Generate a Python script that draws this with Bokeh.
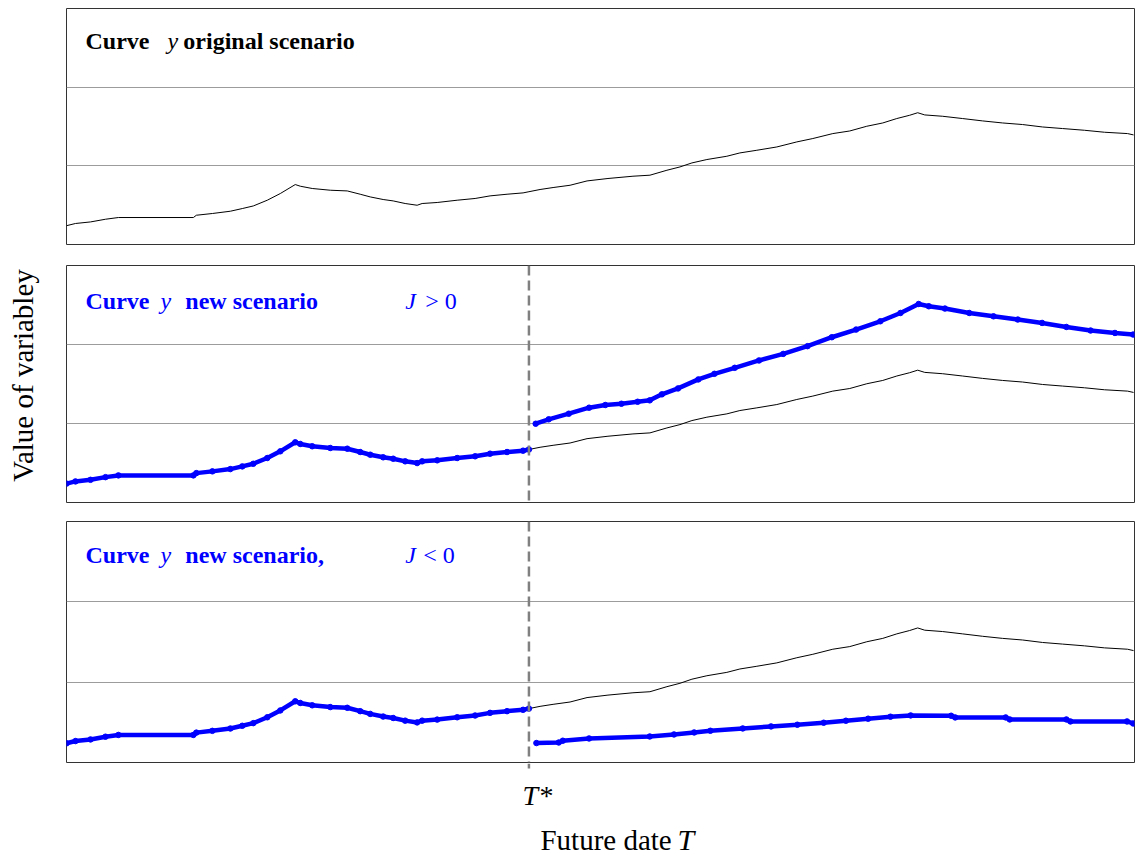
import numpy as np
from bokeh.plotting import figure
from bokeh.layouts import column, row
from bokeh.models import Range1d, FixedTicker, Span
from bokeh.core.properties import value
from bokeh.embed import file_html
from bokeh.resources import INLINE

# ---------------- data ----------------
T_STAR = 43.3

t_orig = [0, 0.84, 2.25, 3.65, 4.86, 11.88, 12.16, 13.66, 15.34, 16.46,
          17.49, 18.80, 20.02, 21.42, 21.89, 23.01, 24.70, 26.29, 27.50, 28.44,
          29.65, 30.59, 31.71, 32.83, 33.30, 34.71, 36.58, 38.26, 39.66, 41.25,
          42.75, 43.30, 44.34, 45.56, 47.15, 48.74, 50.70, 53.04, 54.63, 56.22,
          57.44, 58.56, 59.96, 61.83, 63.05, 64.64, 66.51, 68.38, 69.88, 71.75,
          73.34, 74.93, 76.43, 77.74, 78.95, 79.70, 80.36, 82.04, 83.91, 85.78,
          87.65, 89.52, 91.39, 93.26, 95.32, 97.19, 99.35, 99.91]
y_orig = [0.239, 0.267, 0.287, 0.321, 0.343, 0.343, 0.372, 0.394, 0.423, 0.457,
          0.490, 0.563, 0.648, 0.762, 0.741, 0.712, 0.690, 0.681, 0.639, 0.605,
          0.572, 0.554, 0.521, 0.499, 0.521, 0.534, 0.563, 0.585, 0.618, 0.639,
          0.656, 0.671, 0.699, 0.724, 0.753, 0.808, 0.839, 0.868, 0.881, 0.944,
          0.986, 1.037, 1.080, 1.122, 1.164, 1.198, 1.240, 1.304, 1.347, 1.410,
          1.443, 1.503, 1.545, 1.601, 1.643, 1.675, 1.647, 1.630, 1.601, 1.571,
          1.545, 1.525, 1.494, 1.474, 1.452, 1.427, 1.410, 1.393]

t_up = [43.93, 45.15, 47.03, 48.93, 50.45, 51.96, 53.48, 54.61, 55.75, 57.26,
        59.16, 60.67, 62.57, 64.84, 67.11, 69.38, 71.66, 73.93, 76.20, 78.09,
        79.79, 80.74, 82.25, 84.53, 86.80, 89.07, 91.35, 93.62, 95.89, 98.17, 99.87]
y_up = [0.997, 1.053, 1.124, 1.200, 1.234, 1.250, 1.275, 1.293, 1.369, 1.444,
        1.558, 1.629, 1.705, 1.798, 1.881, 1.979, 2.092, 2.189, 2.294, 2.399,
        2.513, 2.484, 2.455, 2.399, 2.357, 2.316, 2.273, 2.222, 2.177, 2.146, 2.126]

t_down = [44.0, 46.09, 46.47, 48.93, 54.61, 56.88, 58.77, 60.29, 63.32, 65.97,
          68.43, 70.90, 72.98, 75.06, 77.15, 79.04, 82.83, 83.21, 87.94, 88.32,
          93.62, 94.00, 99.30, 99.87]
y_down = [0.242, 0.249, 0.271, 0.299, 0.324, 0.349, 0.374, 0.395, 0.424, 0.449,
          0.470, 0.495, 0.520, 0.545, 0.570, 0.586, 0.582, 0.561, 0.561, 0.536,
          0.536, 0.511, 0.511, 0.486]

grid_levels = [1, 2]

# ---------------- styling ----------------
FONT = "Liberation Serif"
BLUE = "#0000ff"
GRID = "#9c9c9c"
DASH = "#808080"

t_before = [t for t in t_orig if t <= T_STAR]
y_before = [y for t, y in zip(t_orig, y_orig) if t <= T_STAR]
t_after = [t for t in t_orig if t >= T_STAR]
y_after = [y for t, y in zip(t_orig, y_orig) if t >= T_STAR]

x_rng = Range1d(0, 100)


def panel(height, bt, bb):
    p = figure(width=1069, height=height, x_range=x_rng, y_range=Range1d(0, 3),
               output_backend="svg", toolbar_location=None,
               min_border_left=0, min_border_right=1,
               min_border_top=bt, min_border_bottom=bb)
    p.xaxis.visible = False
    p.yaxis.visible = False
    p.xgrid.visible = False
    p.ygrid.ticker = FixedTicker(ticks=grid_levels)
    p.ygrid.grid_line_color = GRID
    p.ygrid.grid_line_width = 1
    p.outline_line_color = "#333333"
    p.outline_line_width = 1
    p.background_fill_color = "white"
    p.border_fill_color = "white"
    return p


def label(p, x, y, txt, color="black", style="bold", size="24px"):
    p.text(x=[x], y=[y], text=[txt], text_font=value(FONT), text_font_style=style,
           text_font_size=size, text_color=color, text_align="left",
           text_baseline="alphabetic")


def blue_curve(p, t, y):
    p.line(t, y, line_color=BLUE, line_width=4.5)
    p.scatter(t, y, size=5.5, fill_color=BLUE, line_color=BLUE)


# panel 1: original scenario
p1 = panel(264, 8, 20)
p1.line(t_orig, y_orig, line_color="black", line_width=1)
Y1 = 2.59
label(p1, 1.78, Y1, "Curve")
label(p1, 9.45, Y1, "y", style="italic")
label(p1, 10.94, Y1, "original scenario")

# panel 2: new scenario J > 0
p2 = panel(256, 1, 18)
p2.line(t_after, y_after, line_color="black", line_width=1)
blue_curve(p2, t_before, y_before)
blue_curve(p2, t_up, y_up)
p2.add_layout(Span(location=T_STAR, dimension="height", line_color=DASH,
                   line_width=2.5, line_dash="10 5"))
Y2 = 2.55
label(p2, 1.78, Y2, "Curve", color=BLUE)
label(p2, 8.79, Y2, "y", color=BLUE, style="italic")
label(p2, 11.13, Y2, "new scenario", color=BLUE)
label(p2, 31.71, Y2, "J", color=BLUE, style="italic")
label(p2, 33.58, Y2, "> 0", color=BLUE, style="normal")

# panel 3: new scenario J < 0
p3 = panel(243, 1, 1)
p3.line(t_after, y_after, line_color="black", line_width=1)
blue_curve(p3, t_before, y_before)
blue_curve(p3, t_down, y_down)
p3.add_layout(Span(location=T_STAR, dimension="height", line_color=DASH,
                   line_width=2.5, line_dash="10 5"))
Y3 = 2.58
label(p3, 1.78, Y3, "Curve", color=BLUE)
label(p3, 8.79, Y3, "y", color=BLUE, style="italic")
label(p3, 11.13, Y3, "new scenario,", color=BLUE)
label(p3, 31.71, Y3, "J", color=BLUE, style="italic")
label(p3, 33.40, Y3, "< 0", color=BLUE, style="normal")

# bottom strip: T* and x label
PB_H = 94
pb = figure(width=1069, height=PB_H, x_range=x_rng, y_range=Range1d(0, PB_H),
            output_backend="svg", toolbar_location=None, min_border=0,
            min_border_right=1)
pb.axis.visible = False
pb.grid.visible = False
pb.outline_line_color = None
pb.segment(x0=[T_STAR], y0=[PB_H], x1=[T_STAR], y1=[PB_H - 5], line_color=DASH, line_width=2.5)
label(pb, 42.7, PB_H - 32, "T", style="italic", size="28px")
label(pb, 44.3, PB_H - 32, "*", style="normal", size="28px")
label(pb, 44.38, 18, "Future date", style="normal", size="29px")
label(pb, 57.2, 18, "T", style="italic", size="30px")

# left strip: y label
PL_H = 264 + 256 + 243 + PB_H
pl = figure(width=66, height=PL_H, x_range=Range1d(0, 66), y_range=Range1d(0, PL_H),
            output_backend="svg", toolbar_location=None, min_border=0)
pl.axis.visible = False
pl.grid.visible = False
pl.outline_line_color = None
pl.text(x=[22], y=[PL_H - 375], text=["Value of variabley"], angle=np.pi / 2,
        text_font=value(FONT), text_font_size="29px", text_color="black",
        text_align="center", text_baseline="middle")

layout = row(pl, column(p1, p2, p3, pb))

open("out.html", "w").write(file_html(layout, INLINE))
